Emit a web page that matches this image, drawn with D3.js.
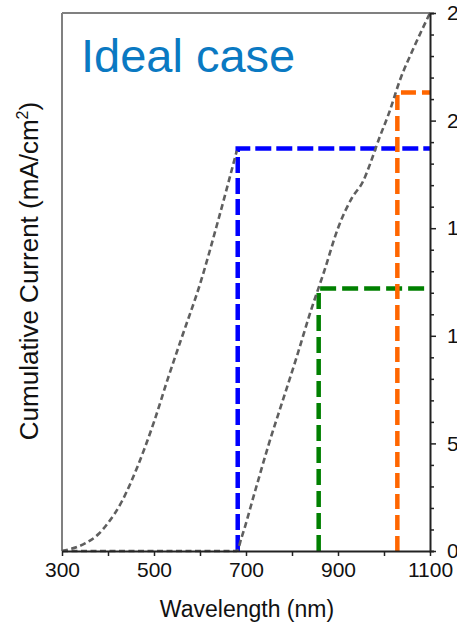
<!DOCTYPE html>
<html><head><meta charset="utf-8">
<script src="https://cdn.jsdelivr.net/npm/d3@7"></script>
<style>html,body{margin:0;padding:0;background:#fff;overflow:hidden}svg{display:block}</style>
</head><body>
<svg id="chart" width="457" height="625"></svg>
<script>
// ---- data ----
const xTicks = [300, 500, 700, 900, 1100];
const yTicks = [0, 5, 10, 15, 20, 25];
// gray cumulative current curves (wavelength nm, mA/cm²)
const curve1Wl = [300, 320, 350, 380, 400, 430, 450, 480, 500, 530, 560, 600, 640, 680];
const curve1J  = [0, 0.1, 0.35, 0.8, 1.3, 2.3, 3.2, 4.8, 6.0, 8.0, 9.9, 12.4, 15.4, 18.6];
const curve2Wl = [300, 680, 690, 720, 750, 780, 810, 840, 870, 900, 930, 955, 970, 990, 1010, 1035, 1065, 1100];
const curve2J  = [0, 0, 0.6, 2.8, 5.0, 7.0, 9.0, 11.1, 13.0, 15.0, 16.4, 17.2, 18.0, 19.2, 20.3, 21.9, 23.4, 25.0];
// step markers: cutoff wavelength & current
const stepNames = ["blue", "green", "orange"];
const stepWl = [682, 858, 1029];
const stepJ  = [18.7, 12.2, 21.3];
const stepColors = ["#0000ff", "#008000", "#ff6600"];
const stepDash = ["16,5", "16,6", "15,6"];

// ---- drawing ----
const svg = d3.select("#chart");
const font = "'Liberation Sans', Arial, sans-serif";
const x = d3.scaleLinear().domain([300, 1100]).range([62, 430]);
const y = d3.scaleLinear().domain([0, 25]).range([551, 13]);

// frame (left & top gray)
svg.append("line").attr("x1", x(300)).attr("x2", x(300)).attr("y1", y(0)).attr("y2", y(25))
  .attr("stroke", "#808080").attr("stroke-width", 2);
svg.append("line").attr("x1", x(300)).attr("x2", x(1100)).attr("y1", y(25)).attr("y2", y(25))
  .attr("stroke", "#808080").attr("stroke-width", 2);

// step lines
stepNames.forEach((n, i) => {
  const pts = [[stepWl[i], 0], [stepWl[i], stepJ[i]], [1100, stepJ[i]]];
  svg.append("path")
    .attr("d", d3.line().x(d => x(d[0])).y(d => y(d[1]))(pts))
    .attr("fill", "none").attr("stroke", stepColors[i]).attr("stroke-width", 4.5)
    .attr("stroke-dasharray", stepDash[i]);
});

// gray curves
const line = d3.line().x(d => x(d[0])).y(d => y(d[1])).curve(d3.curveMonotoneX);
[[curve1Wl, curve1J], [curve2Wl, curve2J]].forEach(([wl, j]) => {
  svg.append("path").attr("d", line(wl.map((w, k) => [w, j[k]])))
    .attr("fill", "none").attr("stroke", "#5f5f5f").attr("stroke-width", 2.6)
    .attr("stroke-dasharray", "6,3.5");
});

// x axis
const xAxis = svg.append("g").attr("transform", `translate(0,${y(0)})`)
  .call(d3.axisBottom(x).tickValues(d3.range(300, 1101, 100)).tickSize(5).tickSizeOuter(0)
    .tickFormat(d => xTicks.includes(d) ? d : ""));
xAxis.select(".domain").attr("stroke", "#222").attr("stroke-width", 2);
xAxis.selectAll(".tick line").attr("stroke", "#222").attr("stroke-width", 1.5);
xAxis.selectAll(".tick text").attr("font-family", font).attr("font-size", 21)
  .attr("fill", "#111").attr("y", 11).attr("dy", "0.71em");

// y axis (right)
const yAxis = svg.append("g").attr("transform", `translate(${x(1100)},0)`)
  .call(d3.axisRight(y).tickValues(d3.range(0, 25.01, 1)).tickSizeOuter(0)
    .tickSize(4).tickFormat(d => yTicks.includes(d) ? d : ""));
yAxis.select(".domain").attr("stroke", "#222").attr("stroke-width", 2);
yAxis.selectAll(".tick line").attr("stroke", "#222").attr("stroke-width", 1.5)
  .attr("x2", d => yTicks.includes(d) ? 6 : 4);
yAxis.selectAll(".tick text").attr("font-family", font).attr("font-size", 21)
  .attr("fill", "#111").attr("x", 17).attr("text-anchor", "start");

// axis titles
svg.append("text").attr("x", 247).attr("y", 617).attr("text-anchor", "middle")
  .attr("font-family", font).attr("font-size", 23).attr("fill", "#111").text("Wavelength (nm)");
const yt = svg.append("text").attr("transform", "translate(38,271) rotate(-90)")
  .attr("text-anchor", "middle").attr("font-family", font).attr("font-size", 26).attr("fill", "#111");
yt.append("tspan").text("Cumulative Current (mA/cm");
yt.append("tspan").attr("font-size", 16).attr("dy", -10).text("2");
yt.append("tspan").attr("dy", 10).text(")");

// title
svg.append("text").attr("x", 81).attr("y", 72).attr("font-family", font).attr("font-size", 47)
  .attr("fill", "#0a79c2").text("Ideal case");
</script>
</body></html>
